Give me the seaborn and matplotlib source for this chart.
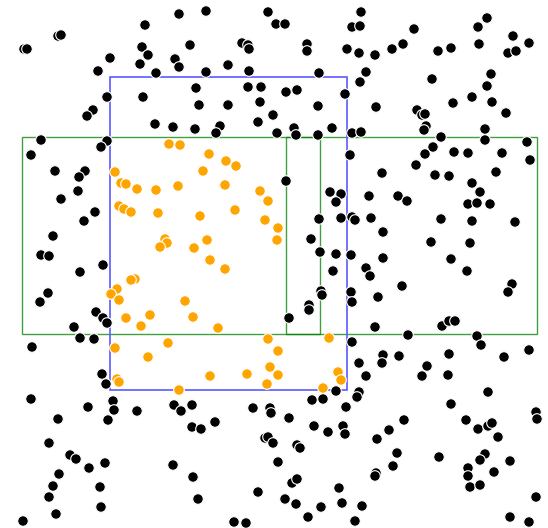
import matplotlib
matplotlib.use("Agg")
import pandas as pd
import matplotlib.pyplot as plt
import seaborn as sns
from matplotlib.patches import Rectangle

# point positions (x, y) in picture units, y grows downwards
black_pts = [
    (179, 14), (206, 11), (268, 12), (276, 24), (145, 25), (58, 36), (61, 35), (24, 49), (27, 49),
    (142, 47), (148, 55), (190, 45), (242, 43), (248, 45), (249, 49), (110, 58), (175, 59), (179, 67),
    (140, 64), (156, 73), (98, 71), (206, 72), (228, 65), (249, 71), (196, 88), (248, 87), (261, 87),
    (107, 97), (143, 97), (199, 105), (228, 105), (260, 102), (273, 115), (93, 110), (87, 116),
    (155, 124), (173, 127), (195, 129), (220, 126), (216, 133), (258, 122), (277, 133), (41, 140),
    (107, 141), (101, 147), (31, 155), (55, 171), (85, 171), (79, 177),
    (361, 12), (285, 24), (352, 27), (360, 26), (414, 29), (487, 18), (478, 27), (513, 36), (529, 43),
    (479, 44), (508, 53), (516, 51), (307, 44), (307, 51), (347, 49), (359, 53), (375, 55), (392, 49),
    (403, 44), (438, 51), (451, 48), (319, 73), (366, 72), (360, 82), (432, 79), (491, 74), (487, 86),
    (286, 92), (297, 90), (345, 94), (318, 106), (376, 107), (417, 110), (422, 115), (425, 114),
    (472, 97), (453, 103), (492, 102), (506, 113), (332, 128), (294, 128), (296, 135), (318, 135),
    (352, 133), (361, 132), (426, 126), (424, 130), (485, 129), (485, 140), (441, 137), (433, 147),
    (527, 142), (350, 155), (425, 154), (454, 152), (468, 153), (502, 153), (530, 160), (416, 165),
    (382, 173), (435, 175), (449, 176), (496, 172),
    (78, 191), (61, 199), (95, 212), (84, 221), (53, 236), (41, 255), (49, 256), (103, 265), (80, 272),
    (48, 293), (40, 302), (96, 312), (103, 318), (107, 323), (74, 327), (80, 338), (94, 339), (32, 347),
    (286, 181), (472, 183), (330, 192), (341, 194), (336, 202), (369, 196), (398, 196), (407, 201),
    (480, 192), (468, 204), (477, 203), (490, 204), (319, 219), (341, 218), (352, 217), (355, 220),
    (371, 218), (441, 219), (472, 221), (515, 222), (383, 232), (311, 239), (431, 242), (470, 243),
    (320, 252), (336, 254), (351, 255), (383, 258), (451, 259), (333, 271), (366, 268), (370, 276),
    (467, 271), (402, 286), (512, 284), (508, 292), (321, 291), (322, 295), (351, 292), (378, 297),
    (309, 305), (309, 310), (352, 302), (289, 318), (375, 327), (442, 326), (449, 321), (455, 321),
    (408, 335), (477, 336), (481, 345), (352, 342), (529, 350),
    (102, 374), (106, 384), (31, 399), (88, 407), (113, 401), (114, 410), (137, 411), (174, 405),
    (181, 411), (192, 405), (58, 419), (108, 420), (192, 427), (201, 429), (215, 422), (253, 408),
    (270, 408), (271, 413), (49, 443), (70, 455), (76, 459), (89, 468), (105, 463), (59, 474),
    (53, 486), (49, 497), (100, 487), (101, 507), (56, 514), (23, 521), (173, 465), (193, 477),
    (198, 499), (258, 492), (234, 522), (246, 523), (265, 438), (268, 437), (273, 443), (278, 462),
    (383, 355), (382, 363), (399, 356), (359, 363), (366, 376), (427, 366), (422, 376), (449, 354),
    (448, 375), (504, 357), (336, 391), (359, 392), (357, 397), (312, 400), (323, 399), (346, 407),
    (289, 418), (314, 426), (328, 432), (343, 426), (345, 434), (404, 420), (389, 430), (377, 439),
    (451, 404), (488, 392), (466, 420), (478, 429), (488, 426), (492, 423), (498, 437), (536, 412),
    (537, 419), (297, 445), (300, 448), (397, 453), (393, 466), (376, 473), (375, 476), (439, 457),
    (485, 454), (480, 460), (510, 461), (468, 468), (468, 476), (494, 472), (470, 487), (480, 485),
    (292, 483), (297, 479), (285, 499), (296, 504), (339, 488), (321, 507), (342, 503), (362, 506),
    (308, 517), (355, 521), (536, 497), (510, 517), (529, 522),
]

orange_pts = [
    (169, 144), (180, 145), (209, 154), (226, 161), (236, 166), (203, 171), (115, 172), (121, 183),
    (126, 184), (137, 189), (156, 190), (178, 186), (225, 185), (260, 191), (268, 201), (119, 206),
    (124, 209), (131, 212), (158, 213), (200, 216), (235, 210), (265, 220), (278, 228), (277, 240),
    (165, 239), (167, 243), (160, 247), (207, 240), (194, 248), (210, 260), (225, 269), (135, 279),
    (131, 280), (117, 289), (111, 294), (119, 300), (185, 301), (150, 315), (126, 318), (193, 317),
    (141, 326), (218, 328), (168, 343), (115, 348), (268, 339), (278, 351), (329, 338), (148, 357),
    (117, 379), (119, 382), (210, 376), (247, 374), (270, 367), (278, 375), (267, 384), (179, 390),
    (338, 372), (341, 380), (323, 388),
]

# boxes as (x0, y0, x1, y1)
query_box = (110, 77, 347, 390)
green_boxes = [(22, 137, 537, 334), (286, 137, 320, 334)]

df = pd.DataFrame(
    [(x, y, "other") for x, y in black_pts] + [(x, y, "hit") for x, y in orange_pts],
    columns=["x", "y", "kind"],
)

fig = plt.figure(figsize=(5.48, 5.28), dpi=100)
ax = fig.add_axes([0, 0, 1, 1])

for x0, y0, x1, y1 in green_boxes:
    ax.add_patch(Rectangle((x0, y0), x1 - x0, y1 - y0, fill=False,
                           edgecolor="green", lw=1, alpha=0.75, zorder=0.5))
x0, y0, x1, y1 = query_box
ax.add_patch(Rectangle((x0, y0), x1 - x0, y1 - y0, fill=False,
                       edgecolor="#5a5aff", lw=1.2, zorder=0.6))

sns.scatterplot(data=df, x="x", y="y", hue="kind",
                palette={"other": "black", "hit": "orange"},
                s=58, edgecolor="white", linewidth=0.8, legend=False, ax=ax, zorder=2)

ax.set_xlim(0, 548)
ax.set_ylim(528, 0)
ax.axis("off")
fig.savefig("out.png", dpi=100)
